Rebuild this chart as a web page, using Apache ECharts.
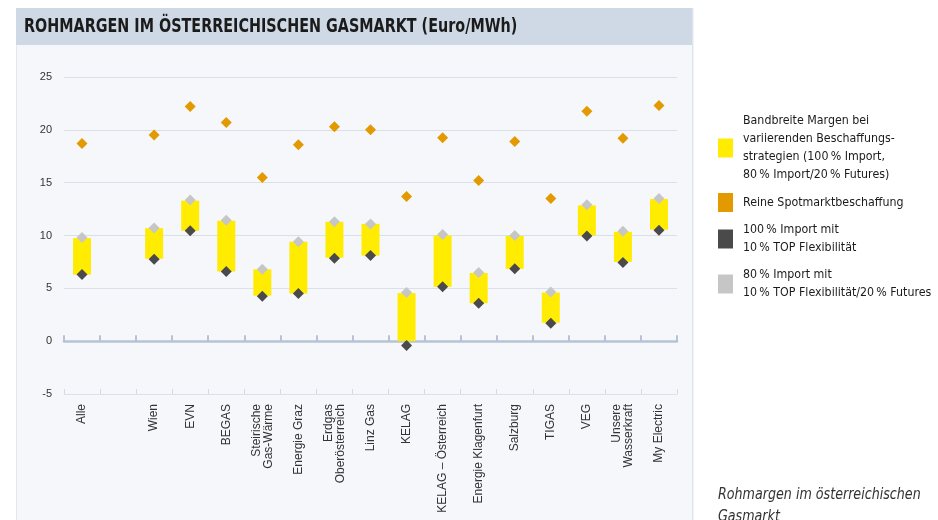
<!DOCTYPE html>
<html>
<head>
<meta charset="utf-8">
<script src="https://cdn.jsdelivr.net/npm/echarts@6/dist/echarts.min.js"></script>
<style>html,body{margin:0;padding:0;background:#fff;}#c{width:938px;height:520px;}</style>
</head>
<body>
<div id="c"></div>
<script>
const categories = ['Alle', '', 'Wien', 'EVN', 'BEGAS', 'Steirische\nGas-Wärme', 'Energie Graz', 'Erdgas\nOberösterreich', 'Linz Gas', 'KELAG', 'KELAG – Österreich', 'Energie Klagenfurt', 'Salzburg', 'TIGAS', 'VEG', 'Unsere\nWasserkraft', 'My Electric'];
const bandLow  = [6.3, null, 7.8, 10.45, 6.6, 4.3, 4.5, 7.9, 8.1, 0, 5.15, 3.6, 6.85, 1.75, 10.0, 7.5, 10.55];
const bandHigh = [9.75, null, 10.7, 13.3, 11.4, 6.8, 9.4, 11.3, 11.1, 4.55, 10.0, 6.45, 9.95, 4.6, 12.85, 10.35, 13.45];
const spot     = [18.7, null, 19.5, 22.2, 20.7, 15.5, 18.6, 20.3, 20.0, 13.7, 19.25, 15.2, 18.9, 13.5, 21.75, 19.2, 22.3];
const import100 = [6.3, null, 7.75, 10.45, 6.6, 4.25, 4.5, 7.85, 8.1, -0.4, 5.15, 3.6, 6.85, 1.7, 9.95, 7.45, 10.5];
const import80  = [9.8, null, 10.7, 13.35, 11.45, 6.8, 9.4, 11.3, 11.1, 4.6, 10.1, 6.5, 10.0, 4.65, 12.9, 10.4, 13.5];
const yTicks = { min: -5, max: 25, interval: 5 };

const ns = '\u202f';
const names = {
  band: 'Bandbreite Margen bei\nvariierenden Beschaffungs-\nstrategien (100' + ns + '% Import,\n80' + ns + '% Import/20' + ns + '% Futures)',
  spot: 'Reine Spotmarktbeschaffung',
  i100: '100' + ns + '% Import mit\n10' + ns + '% TOP Flexibilität',
  i80: '80' + ns + '% Import mit\n10' + ns + '% TOP Flexibilität/20' + ns + '% Futures'
};
const condensed = "'Liberation Sans Narrow','DejaVu Sans Condensed','Roboto Condensed',Roboto,sans-serif";
const sans = "'Liberation Sans',Arial,sans-serif";

const chart = echarts.init(document.getElementById('c'), null, { renderer: 'canvas' });
const bandSize = bandHigh.map((h, i) => (h == null ? null : +(h - bandLow[i]).toFixed(3)));

chart.setOption({
  animation: false,
  backgroundColor: '#ffffff',
  graphic: [
    { type: 'rect', z: -100, shape: { x: 16, y: 8, width: 677, height: 520 }, style: { fill: '#f5f7fb' } },
    { type: 'rect', z: -99, shape: { x: 16, y: 8, width: 677, height: 37 }, style: { fill: '#cfd9e5' } },
    { type: 'rect', z: -99, shape: { x: 692, y: 8, width: 1.5, height: 520 }, style: { fill: '#dfe5ee' } },
    { type: 'rect', z: -99, shape: { x: 16, y: 45, width: 1, height: 480 }, style: { fill: '#e3e8f0' } },
    { type: 'text', z: 10, x: 24, y: 27, scaleX: 0.84,
      style: { text: 'ROHMARGEN IM ÖSTERREICHISCHEN GASMARKT (Euro/MWh)', x: 0, y: 0,
        font: 'bold 19px ' + condensed, fill: '#1b1b1b', verticalAlign: 'middle', align: 'left' } },
    { type: 'text', z: 10, x: 718, y: 484, scaleX: 0.94,
      style: { text: 'Rohmargen im österreichischen\nGasmarkt', x: 0, y: 0, lineHeight: 22,
        font: 'italic 15px ' + condensed, fill: '#333', verticalAlign: 'top', align: 'left' } }
  ],
  legend: {
    orient: 'vertical', left: 718, top: 112, padding: 0,
    itemWidth: 15, itemHeight: 19, itemGap: 9, icon: 'rect',
    itemStyle: { opacity: 1 },
    textStyle: { fontFamily: condensed, fontSize: 12.3, lineHeight: 18, color: '#1b1b1b', padding: [0, 0, 0, 5] },
    data: [names.band, names.spot, names.i100, names.i80],
    selectedMode: false
  },
  grid: { left: 64, right: 261, top: 77, bottom: 126 },
  xAxis: [
    {
      type: 'category', data: categories, position: 'bottom',
      axisLine: { onZero: false, lineStyle: { color: '#dce2eb', width: 1 } },
      axisTick: { show: true, interval: 0, inside: true, length: 5, lineStyle: { color: '#d3dae5' } },
      axisLabel: { interval: 0, rotate: 90, margin: 10, fontFamily: sans, fontSize: 12, color: '#333', lineHeight: 12 },
      splitLine: { show: false }
    },
    {
      type: 'category', data: categories, position: 'bottom',
      axisLine: { onZero: true, onZeroAxisIndex: 0, lineStyle: { color: '#b6c3d6', width: 2.5 } },
      axisTick: { show: true, interval: 0, inside: true, length: 6, lineStyle: { color: '#b6c3d6', width: 2 } },
      axisLabel: { show: false },
      splitLine: { show: false }
    }
  ],
  yAxis: {
    type: 'value', min: yTicks.min, max: yTicks.max, interval: yTicks.interval,
    axisLine: { show: false }, axisTick: { show: false },
    axisLabel: { fontFamily: sans, fontSize: 11, color: '#333', margin: 12 },
    splitLine: { lineStyle: { color: '#d9e0ea', width: 1 } }
  },
  series: [
    { type: 'bar', name: 'base', stack: 'band', stackStrategy: 'all', barWidth: 18, data: bandLow,
      itemStyle: { color: 'rgba(0,0,0,0)' }, silent: true, z: 3 },
    { type: 'bar', name: names.band, stack: 'band', stackStrategy: 'all', barWidth: 18, data: bandSize,
      itemStyle: { color: '#ffec00' }, z: 3 },
    { type: 'scatter', name: names.spot, data: spot, symbol: 'diamond', symbolSize: 11,
      itemStyle: { color: '#e39a00', opacity: 1 }, z: 5 },
    { type: 'scatter', name: names.i100, data: import100, symbol: 'diamond', symbolSize: 11,
      itemStyle: { color: '#4a4a4a', opacity: 1 }, z: 5 },
    { type: 'scatter', name: names.i80, data: import80, symbol: 'diamond', symbolSize: 11,
      itemStyle: { color: '#c6c6c6', opacity: 1 }, z: 5 }
  ]
});
</script>
</body>
</html>
